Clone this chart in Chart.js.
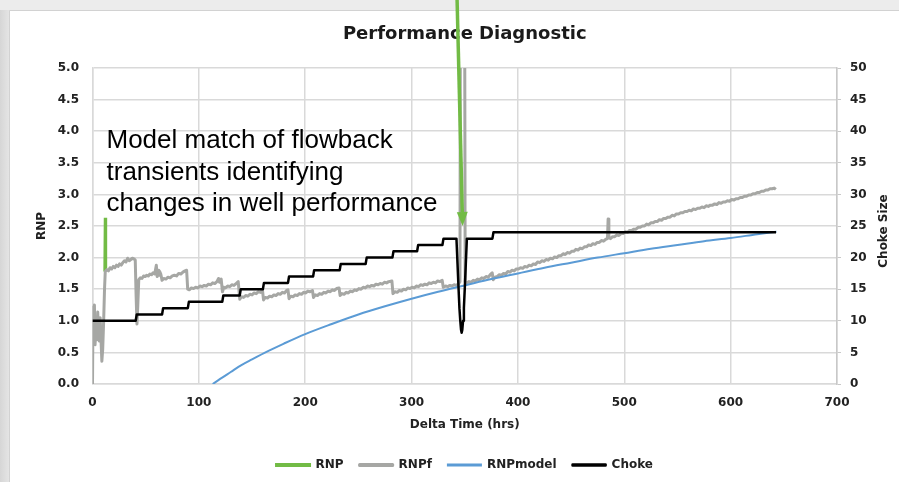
<!DOCTYPE html>
<html>
<head>
<meta charset="utf-8">
<script src="https://cdn.jsdelivr.net/npm/chart.js@4"></script>
<style>
  body { margin: 0; background: #fff; }
  #chart { display: block; }
</style>
</head>
<body>
<canvas id="chart" width="899" height="482"></canvas>
<script>
// values: [hrs, value]
const rnpData = [[11.6, 1.78], [12, 2.63], [12.4, 1.80]];

const rnpfData = [
  [0, 0], [0.5, 1.22], [1.2, 0.85], [1.8, 1.25], [2.4, 0.62], [3.3, 0.95], [4.2, 0.70], [4.9, 1.14], [5.6, 0.85], [6.4, 0.68],
  [7.2, 1.05], [8.0, 0.70], [8.8, 0.36], [9.6, 0.55], [10.5, 1.00], [11.3, 1.50], [12.0, 1.78], [13.5, 1.81], [15, 1.79], [16.5, 1.84],
  [18, 1.82], [19.5, 1.86], [21, 1.84], [22.5, 1.88], [24, 1.86], [25.5, 1.90], [27, 1.88], [28.5, 1.92], [30, 1.95], [31.5, 1.93],
  [33, 1.99], [34.5, 1.95], [36, 1.97], [37.5, 1.99], [39, 1.98], [40.2, 1.96], [41, 1.40], [41.8, 0.95], [42.6, 1.25], [43.5, 1.65],
  [45, 1.68], [46.5, 1.67], [48, 1.71], [49.5, 1.70], [51, 1.72], [52.5, 1.71], [54, 1.74], [55.5, 1.73], [57, 1.76], [58.5, 1.74],
  [60, 1.88], [60.8, 1.70], [61.6, 1.80], [62.4, 1.72], [63.2, 1.78], [64.2, 1.74], [65.4, 1.64], [67, 1.67], [69, 1.66], [71, 1.69],
  [73, 1.68], [75, 1.71], [77, 1.72], [79, 1.71], [81, 1.75], [83, 1.74], [85, 1.77], [87, 1.79], [88.5, 1.80], [89.5, 1.50],
  [91, 1.49], [93, 1.52], [95, 1.51], [97, 1.53], [99, 1.52], [101, 1.55], [103, 1.54], [105, 1.56], [107, 1.55], [109, 1.58],
  [111, 1.57], [113, 1.60], [115, 1.59], [117, 1.62], [118.5, 1.67], [119.5, 1.61], [121, 1.66], [122.2, 1.46], [123.5, 1.53], [125, 1.52],
  [127, 1.55], [129, 1.54], [131, 1.57], [133, 1.56], [135, 1.59], [137, 1.62], [138.5, 1.34], [140, 1.38], [142, 1.37], [144, 1.40],
  [146, 1.39], [148, 1.42], [150, 1.41], [152, 1.44], [154, 1.43], [156, 1.46], [158, 1.45], [159.8, 1.49], [160.8, 1.33], [162.5, 1.37],
  [164.5, 1.36], [166.5, 1.39], [168.5, 1.38], [170.5, 1.41], [172.5, 1.40], [174.5, 1.43], [176.5, 1.42], [178.5, 1.45], [180.5, 1.44], [182.5, 1.48],
  [183.8, 1.49], [184.8, 1.35], [186.5, 1.39], [188.5, 1.38], [190.5, 1.41], [192.5, 1.40], [194.5, 1.43], [196.5, 1.42], [198.5, 1.45], [200.5, 1.44],
  [202.5, 1.47], [204.5, 1.46], [206.8, 1.48], [207.8, 1.37], [209.5, 1.41], [211.5, 1.40], [213.5, 1.43], [215.5, 1.42], [217.5, 1.45], [219.5, 1.44],
  [221.5, 1.47], [223.5, 1.46], [225.5, 1.49], [227.5, 1.48], [229.5, 1.51], [231.8, 1.52], [232.8, 1.40], [234.5, 1.43], [236.5, 1.42], [238.5, 1.45],
  [240.5, 1.44], [242.5, 1.47], [244.5, 1.46], [246.5, 1.49], [248.5, 1.48], [250.5, 1.51], [252.5, 1.50], [254.5, 1.53], [256.5, 1.52], [258.5, 1.55],
  [260.5, 1.54], [262.5, 1.56], [264.5, 1.55], [266.5, 1.58], [268.5, 1.57], [270.5, 1.59], [272.5, 1.58], [274.5, 1.61], [276.5, 1.60], [278.5, 1.62],
  [281.5, 1.63], [282.5, 1.43], [284.5, 1.46], [286.5, 1.45], [288.5, 1.48], [290.5, 1.47], [292.5, 1.50], [294.5, 1.49], [296.5, 1.52], [298.5, 1.51],
  [300.5, 1.53], [302.5, 1.52], [304.5, 1.55], [306.5, 1.54], [308.5, 1.57], [310.5, 1.56], [312.5, 1.58], [314.5, 1.57], [316.5, 1.60], [318.5, 1.59],
  [320.5, 1.61], [322.5, 1.60], [324.5, 1.63], [326.5, 1.62], [328.8, 1.64], [329.8, 1.53], [332, 1.55], [334, 1.54], [336, 1.56], [338, 1.55],
  [340, 1.57], [342, 1.56], [344, 1.58], [345.5, 1.62], [346.0, 7.00], [349.8, 7.00], [350.4, 1.62], [352, 1.60], [354, 1.62], [356, 1.61],
  [358, 1.64], [360, 1.63], [362, 1.66], [364, 1.65], [366, 1.68], [368, 1.67], [370, 1.70], [372, 1.69], [374, 1.73], [375.8, 1.76],
  [376.8, 1.65], [378.5, 1.69], [380.5, 1.70], [382.5, 1.73], [384.5, 1.72], [386.5, 1.75], [388.5, 1.74], [390.5, 1.78], [392.5, 1.77], [394.5, 1.80],
  [396.5, 1.79], [398.5, 1.82], [400.5, 1.82], [402.5, 1.84], [404.5, 1.83], [406.5, 1.86], [408.5, 1.85], [410.5, 1.88], [412.5, 1.87], [414.5, 1.90],
  [416.5, 1.89], [418.5, 1.93], [420.5, 1.92], [422.5, 1.95], [424.5, 1.94], [426.5, 1.97], [428.5, 1.96], [430.5, 1.99], [432.5, 1.98], [434.5, 2.01],
  [436.5, 2.00], [438.5, 2.03], [440.5, 2.03], [442.5, 2.06], [444.5, 2.05], [446.5, 2.08], [448.5, 2.07], [450.5, 2.10], [452.5, 2.10], [454.5, 2.13],
  [456.5, 2.12], [458.5, 2.15], [460.5, 2.14], [462.5, 2.17], [464.5, 2.17], [466.5, 2.20], [468.5, 2.19], [470.5, 2.22], [472.5, 2.21], [474.5, 2.24],
  [476.5, 2.24], [478.5, 2.27], [480.5, 2.26], [482.5, 2.29], [484.2, 2.30], [484.8, 2.61], [485.5, 2.32], [487, 2.30], [489, 2.33], [491, 2.33],
  [493, 2.36], [495, 2.35], [497, 2.38], [499, 2.38], [501, 2.41], [503, 2.40], [505, 2.43], [507, 2.43], [509, 2.45], [511, 2.45],
  [513, 2.48], [515, 2.48], [517, 2.50], [519, 2.50], [521, 2.53], [523, 2.52], [525, 2.55], [527, 2.55], [529, 2.57], [531, 2.57],
  [533, 2.60], [535, 2.59], [537, 2.62], [539, 2.62], [541, 2.64], [543, 2.64], [545, 2.67], [547, 2.66], [549, 2.69], [551, 2.69],
  [553, 2.71], [555, 2.71], [557, 2.73], [559, 2.73], [561, 2.75], [563, 2.74], [565, 2.77], [567, 2.76], [569, 2.78], [571, 2.78],
  [573, 2.80], [575, 2.79], [577, 2.82], [579, 2.81], [581, 2.83], [583, 2.83], [585, 2.85], [587, 2.84], [589, 2.87], [591, 2.86],
  [593, 2.88], [595, 2.88], [597, 2.90], [599, 2.89], [601, 2.92], [603, 2.91], [605, 2.93], [607, 2.93], [609, 2.95], [611, 2.95],
  [613, 2.97], [615, 2.97], [617, 2.99], [619, 2.99], [621, 3.01], [623, 3.01], [625, 3.03], [627, 3.03], [629, 3.05], [631, 3.05],
  [633, 3.07], [635, 3.07], [637, 3.09], [639, 3.09], [641, 3.10], [642.5, 3.08]
];

const rnpModelData = [
  [113, 0], [120, 0.08], [130, 0.19], [140, 0.30], [150, 0.39], [165, 0.52], [180, 0.64], [200, 0.79], [225, 0.95], [250, 1.10],
  [275, 1.23], [300, 1.35], [325, 1.46], [350, 1.56], [375, 1.66], [400, 1.75], [425, 1.84], [450, 1.92], [475, 2.00], [500, 2.07],
  [525, 2.14], [550, 2.20], [575, 2.26], [600, 2.31], [625, 2.37], [643, 2.41]
];

const chokeData = [
  [0, 10], [40.6, 10], [41.6, 11], [65.4, 11], [66.4, 12], [89.6, 12], [90.6, 13], [122, 13], [123, 14], [138.4, 14],
  [139.4, 15], [160.2, 15], [161.2, 16], [183.8, 16], [184.8, 17], [207.4, 17], [208.4, 18], [232.4, 18], [233.4, 19], [256.8, 19],
  [257.8, 20], [282, 20], [283, 21], [305.2, 21], [306.2, 22], [329, 22], [330, 23], [342.2, 23], [343.2, 19], [344.1, 15.4],
  [345.0, 12], [345.8, 10], [346.5, 8.6], [347.1, 8.1], [347.7, 8.6], [348.4, 10], [349.2, 12], [350.1, 15.4], [351.0, 19], [352.0, 23],
  [376, 23], [377, 24], [642.7, 24]
];

const seriesNames = ["RNP", "RNPf", "RNPmodel", "Choke"];
const seriesColors = ["#72bb45", "#a6a7a4", "#5b9bd5", "#000000"];
const noteLines = ["Model match of flowback", "transients identifying", "changes in well performance"];
const arrowTip = [348, 2.5];   // hrs, RNP
const arrowTailHrs = 342.8;

const toXY = arr => arr.map(p => ({ x: p[0], y: p[1] }));

const tickFont = { family: "DejaVu Sans", size: 12, weight: "bold" };
const gridColor = "#d9d9d9";

// slide frame behind the chart
const framePlugin = {
  id: "frame",
  beforeDraw(chart) {
    const c = chart.ctx;
    c.save();
    c.fillStyle = "#ffffff";
    c.fillRect(0, 0, chart.width, chart.height);
    c.fillStyle = "#ececec";
    c.fillRect(0, 0, chart.width, 10);
    let g = c.createLinearGradient(0, 0, 10, 0);
    g.addColorStop(0, "#d6d6d6");
    g.addColorStop(1, "#e6e6e6");
    c.fillStyle = g;
    c.fillRect(0, 10, 10, chart.height);
    c.strokeStyle = "#d2d2d2";
    c.lineWidth = 1;
    c.beginPath();
    c.moveTo(9.5, chart.height);
    c.lineTo(9.5, 10.5);
    c.lineTo(chart.width, 10.5);
    c.stroke();
    c.restore();
  }
};

// text box, right axis title, green arrow
const notesPlugin = {
  id: "notes",
  afterDraw(chart) {
    const c = chart.ctx;
    const area = chart.chartArea;
    const xs = chart.scales.x, ys = chart.scales.y, y2 = chart.scales.y2;
    c.save();
    c.fillStyle = "#000";
    c.font = "26px 'Liberation Sans'";
    c.textBaseline = "alphabetic";
    noteLines.forEach((t, i) => c.fillText(t, area.left + 14, area.top + 80 + i * 31.5));

    c.fillStyle = "#222";
    c.font = "bold 12px 'DejaVu Sans'";
    c.textAlign = "center";
    c.textBaseline = "middle";
    c.translate(y2.right - 15, (area.top + area.bottom) / 2 + 5);
    c.rotate(-Math.PI / 2);
    c.fillText("Choke Size", 0, 0);
    c.restore();

    const tx = xs.getPixelForValue(arrowTip[0]);
    const ty = ys.getPixelForValue(arrowTip[1]);
    const sx = xs.getPixelForValue(arrowTailHrs);
    const sy = 0;
    const ang = Math.atan2(ty - sy, tx - sx);
    const headLen = 14, headHalf = 5.5;
    const bx = tx - headLen * Math.cos(ang), by = ty - headLen * Math.sin(ang);
    c.save();
    c.strokeStyle = seriesColors[0];
    c.fillStyle = seriesColors[0];
    c.lineWidth = 3.5;
    c.beginPath();
    c.moveTo(sx, sy);
    c.lineTo(bx, by);
    c.stroke();
    c.beginPath();
    c.moveTo(tx, ty);
    c.lineTo(bx + headHalf * Math.sin(ang), by - headHalf * Math.cos(ang));
    c.lineTo(bx - headHalf * Math.sin(ang), by + headHalf * Math.cos(ang));
    c.closePath();
    c.fill();
    c.restore();
  }
};

new Chart(document.getElementById("chart"), {
  type: "line",
  data: {
    datasets: [
      { label: seriesNames[0], data: toXY(rnpData), borderColor: seriesColors[0], backgroundColor: seriesColors[0], borderWidth: 3, order: 4, yAxisID: "y" },
      { label: seriesNames[1], data: toXY(rnpfData), borderColor: seriesColors[1], backgroundColor: seriesColors[1], borderWidth: 3, order: 3, yAxisID: "y", borderJoinStyle: "round" },
      { label: seriesNames[2], data: toXY(rnpModelData), borderColor: seriesColors[2], backgroundColor: seriesColors[2], borderWidth: 2, order: 2, yAxisID: "y", cubicInterpolationMode: "monotone" },
      { label: seriesNames[3], data: toXY(chokeData), borderColor: seriesColors[3], backgroundColor: seriesColors[3], borderWidth: 2.5, order: 1, yAxisID: "y2", borderJoinStyle: "round" }
    ]
  },
  options: {
    responsive: false,
    animation: false,
    layout: { padding: { left: 10, top: 11, right: 0, bottom: 1 } },
    elements: { point: { radius: 0 }, line: { tension: 0 } },
    plugins: {
      title: {
        display: true,
        text: "Performance Diagnostic",
        fullSize: false,
        color: "#1a1a1a",
        font: { family: "DejaVu Sans", size: 18, weight: "bold" },
        padding: { top: 13, bottom: 22.4 }
      },
      legend: {
        position: "bottom",
        fullSize: false,
        labels: {
          boxWidth: 33, boxHeight: 1, padding: 16, color: "#222", font: tickFont,
          sort: (a, b) => a.datasetIndex - b.datasetIndex
        }
      },
      tooltip: { enabled: false }
    },
    scales: {
      x: {
        type: "linear",
        min: 0,
        max: 700,
        ticks: { stepSize: 100, padding: 12, color: "#222", font: tickFont },
        grid: { color: gridColor, lineWidth: 1.5, drawTicks: false },
        border: { color: gridColor, width: 1.5 },
        title: { display: true, text: "Delta Time (hrs)", color: "#222", font: tickFont, padding: { top: 0, bottom: 10.8 } },
        afterFit: s => { s.height = 59; }
      },
      y: {
        position: "left",
        min: 0,
        max: 5,
        ticks: { stepSize: 0.5, padding: 13.5, color: "#222", font: tickFont, callback: v => v.toFixed(1) },
        grid: { color: gridColor, lineWidth: 1.5, drawTicks: false },
        border: { color: gridColor, width: 1.5 },
        title: { display: true, text: "RNP", color: "#222", font: tickFont, padding: { top: 24.8, bottom: 0 } },
        afterFit: s => { s.width = 82.5; }
      },
      y2: {
        position: "right",
        min: 0,
        max: 50,
        ticks: { stepSize: 5, padding: 9, color: "#222", font: tickFont },
        grid: { drawOnChartArea: false, color: "#c8c8c8", tickLength: 4 },
        border: { color: "#c8c8c8", width: 1.5 },
        afterFit: s => { s.width = 62; }
      }
    }
  },
  plugins: [framePlugin, notesPlugin]
});
</script>
</body>
</html>
